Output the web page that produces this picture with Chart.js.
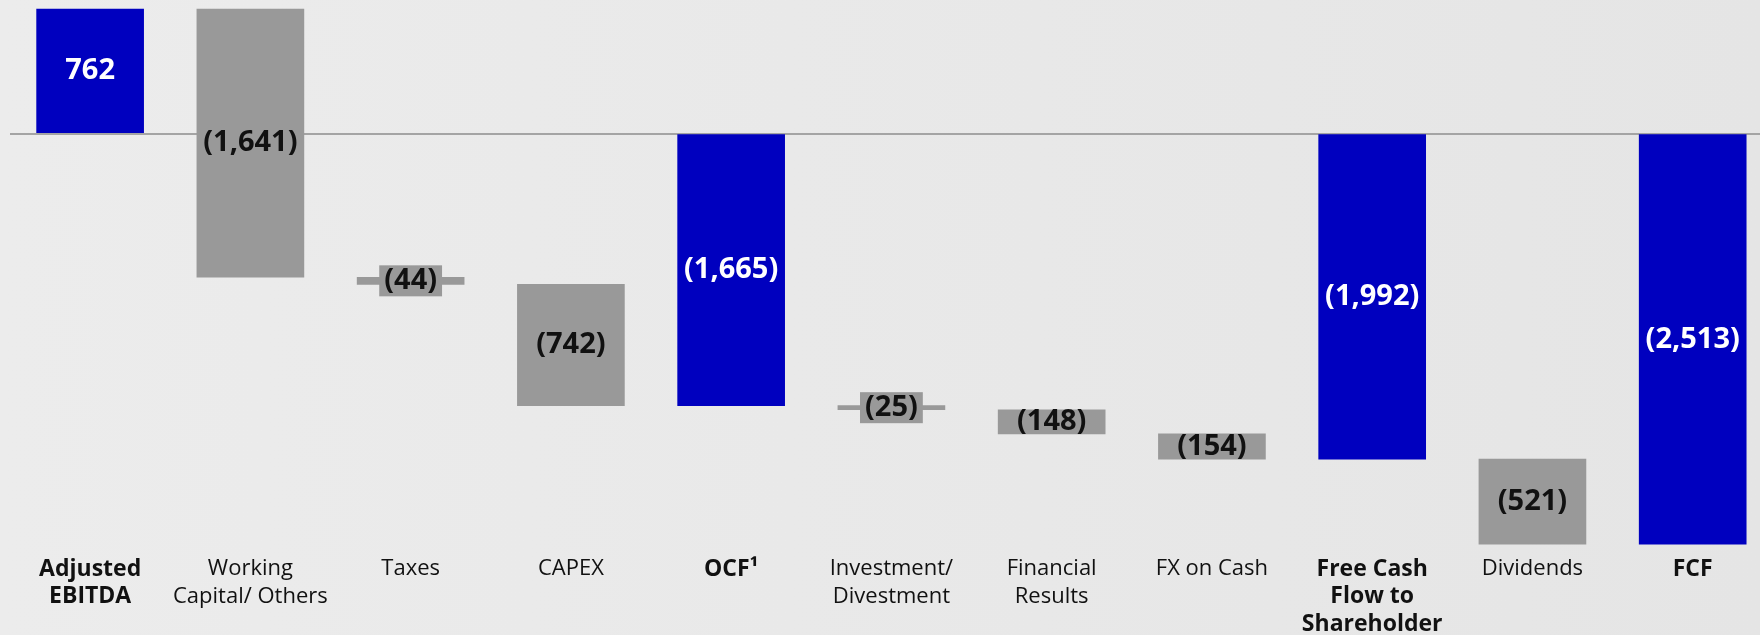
<!DOCTYPE html>
<html>
<head>
<meta charset="utf-8">
<script src="https://cdn.jsdelivr.net/npm/chart.js@4/dist/chart.umd.min.js"></script>
<style>
    html, body { margin: 0; padding: 0; }
    body {
        width: 1760px; height: 635px; overflow: hidden;
        background: linear-gradient(90deg, #ececec 0%, #e9e9e9 45%, #e5e5e5 100%);
    }
    #wrap { position: relative; width: 1760px; height: 635px; }
</style>
</head>
<body>
<div id="wrap"><canvas id="fcfChart"></canvas></div>
<script>
// categories / values (waterfall steps, totals in blue)
const categories = [
    ['Adjusted', 'EBITDA'], ['Working', 'Capital/ Others'], 'Taxes', 'CAPEX', 'OCF¹',
    ['Investment/', 'Divestment'], ['Financial', 'Results'], 'FX on Cash',
    ['Free Cash', 'Flow to', 'Shareholder'], 'Dividends', 'FCF'
];
const values = [762, -1641, -44, -742, -1665, -25, -148, -154, -1992, -521, -2513];
const isTotal = [true, false, false, false, true, false, false, false, true, false, true];
const boldLabels = [0, 4, 8, 10];

const colorBlue = '#0000bf';
const colorGrey = '#999999';

// floating bars: totals start at zero, steps start at running total
let running = 0;
const ranges = values.map(function(v, i) {
    if (isTotal[i]) { running = v; return [0, v]; }
    const start = running;
    running += v;
    return [start, running];
});

function fmt(v) {
    const s = Math.abs(v).toLocaleString('en-US');
    return v < 0 ? '(' + s + ')' : s;
}

// value labels centred on each bar, grey tag behind the thin ones
const barLabels = {
    id: 'barLabels',
    afterDatasetsDraw(chart) {
        const ctx = chart.ctx;
        const meta = chart.getDatasetMeta(0);
        ctx.save();
        ctx.font = 'bold 29px "Open Sans"';
        ctx.textAlign = 'center';
        ctx.textBaseline = 'middle';
        meta.data.forEach(function(el, i) {
            const p = el.getProps(['x', 'y', 'base'], true);
            const cy = (p.y + p.base) / 2;
            const txt = fmt(values[i]);
            if (!isTotal[i]) {
                if (Math.abs(p.base - p.y) < 12) {
                    const w = ctx.measureText(txt).width + 10;
                    ctx.fillStyle = colorGrey;
                    ctx.fillRect(p.x - w / 2, cy - 15.5, w, 31);
                }
                ctx.fillStyle = '#111111';
            } else {
                ctx.fillStyle = '#ffffff';
            }
            ctx.fillText(txt, p.x, cy);
        });
        ctx.restore();
    }
};

new Chart(document.getElementById('fcfChart'), {
    type: 'bar',
    data: {
        datasets: [{
            data: ranges.map(function(r, i) { return { x: i, y: r }; }),
            backgroundColor: isTotal.map(function(t) { return t ? colorBlue : colorGrey; }),
            borderWidth: 0,
            borderSkipped: false,
            barThickness: 107
        }]
    },
    options: {
        responsive: true,
        maintainAspectRatio: false,
        animation: false,
        layout: { padding: { left: 10, right: 0, top: 0, bottom: 0 } },
        scales: {
            x: {
                type: 'linear',
                offset: false,
                min: -0.5,
                max: 10.42,
                grid: { display: false },
                border: { display: false },
                afterBuildTicks: function(scale) {
                    scale.ticks = categories.map(function(c, i) { return { value: i }; });
                },
                afterFit: function(scale) { scale.height = 90; },
                ticks: {
                    autoSkip: false,
                    maxRotation: 0,
                    minRotation: 0,
                    padding: 2,
                    color: '#111111',
                    callback: function(value) { return categories[value]; },
                    font: function(c) {
                        const bold = boldLabels.includes(c.index);
                        return {
                            family: '"Open Sans", sans-serif',
                            size: bold ? 23 : 22,
                            lineHeight: bold ? 1.215 : 1.27,
                            weight: bold ? 'bold' : 'normal'
                        };
                    }
                }
            },
            y: {
                min: -2518,
                max: 818,
                border: { display: false },
                afterBuildTicks: function(scale) { scale.ticks = [{ value: 0 }]; },
                ticks: { display: false },
                grid: {
                    drawTicks: false,
                    lineWidth: 2,
                    color: function(c) { return c.tick && c.tick.value === 0 ? '#a4a4a4' : 'rgba(0,0,0,0)'; }
                }
            }
        },
        plugins: {
            legend: { display: false },
            tooltip: { enabled: false }
        }
    },
    plugins: [barLabels]
});
</script>
</body>
</html>
